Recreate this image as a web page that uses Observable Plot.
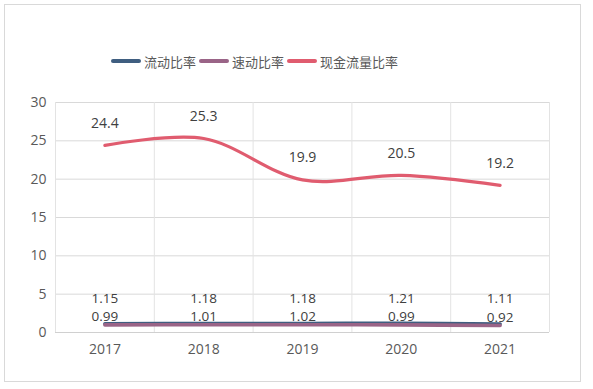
<!DOCTYPE html>
<html>
<head>
<meta charset="utf-8">
<script src="https://cdn.jsdelivr.net/npm/d3@7"></script>
<script src="https://cdn.jsdelivr.net/npm/@observablehq/plot@0.6"></script>
<style>
  html, body { margin: 0; padding: 0; background: #fff; }
  #wrap { position: relative; width: 593px; height: 389px; overflow: hidden; font-family: "Noto Sans CJK SC", "Noto Sans", sans-serif; }
  #frame { position: absolute; left: 4px; top: 4px; width: 575px; height: 376px; border: 1px solid #D9D9D9; box-sizing: content-box; pointer-events: none; }
  #legend { position: absolute; left: 111px; top: 51px; height: 20px; display: flex; align-items: center; font-size: 13px; color: #595959; white-space: nowrap; }
  #legend .item { display: flex; align-items: center; margin-right: 3px; }
  #legend .sw { width: 30px; height: 4px; border-radius: 2px; margin-right: 3px; }
  #chart { position: absolute; left: 0; top: 0; }
</style>
</head>
<body>
<div id="wrap">
  <div id="chart"></div>
  <div id="frame"></div>
  <div id="legend"></div>
</div>
<script>
const years = [2017, 2018, 2019, 2020, 2021];
const seriesNames = ["流动比率", "速动比率", "现金流量比率"];
const currentRatio = [1.15, 1.18, 1.18, 1.21, 1.11];
const quickRatio = [0.99, 1.01, 1.02, 0.99, 0.92];
const cashFlowRatio = [24.4, 25.3, 19.9, 20.5, 19.2];
const yTicks = [0, 5, 10, 15, 20, 25, 30];
const colors = ["#3F5E80", "#9A6487", "#E05C6F"];
const labelOffsets = [-25, -8, -22];

const seriesValues = [currentRatio, quickRatio, cashFlowRatio];
const data = seriesValues.flatMap((vals, i) =>
  vals.map((v, j) => ({ series: seriesNames[i], year: years[j], value: v }))
);
const edges = years.map(y => y - 0.5).concat([years[years.length - 1] + 0.5]);

const numFont = "'Open Sans', 'Noto Sans CJK SC', sans-serif";
const marks = [
  Plot.ruleY(yTicks, { y: d => d, stroke: "#D9D9D9", strokeWidth: 1 }),
  Plot.ruleX(edges, { x: d => d, stroke: "#E3E3E3", strokeWidth: 1 }),
  Plot.ruleY([0], { stroke: "#D0D0D0", strokeWidth: 1 })
];
seriesNames.forEach((name, i) => {
  marks.push(Plot.line(data.filter(d => d.series === name), {
    x: "year", y: "value", curve: "catmull-rom",
    stroke: colors[i], strokeWidth: i === 2 ? 3.2 : 3.6, strokeLinecap: "round"
  }));
});
seriesNames.forEach((name, i) => {
  marks.push(Plot.text(data.filter(d => d.series === name), {
    x: "year", y: "value", text: d => String(d.value), dy: labelOffsets[i],
    fill: "#404040", fontSize: i === 2 ? 14 : 13.5, fontFamily: numFont
  }));
});

const chart = Plot.plot({
  width: 593,
  height: 389,
  marginLeft: 55,
  marginRight: 44,
  marginTop: 102,
  marginBottom: 57,
  style: { fontFamily: numFont, fontSize: "14px", color: "#595959", background: "transparent" },
  x: { domain: [edges[0], edges[edges.length - 1]], ticks: years, tickFormat: d => String(d), tickSize: 0, tickPadding: 12, label: null },
  y: { domain: [0, 30], ticks: yTicks, tickSize: 0, tickPadding: 9, label: null },
  marks
});
document.getElementById("chart").appendChild(chart);

const legend = document.getElementById("legend");
seriesNames.forEach((name, i) => {
  const item = document.createElement("div");
  item.className = "item";
  const sw = document.createElement("div");
  sw.className = "sw";
  sw.style.background = colors[i];
  const t = document.createElement("span");
  t.textContent = name;
  item.appendChild(sw);
  item.appendChild(t);
  legend.appendChild(item);
});
</script>
</body>
</html>
